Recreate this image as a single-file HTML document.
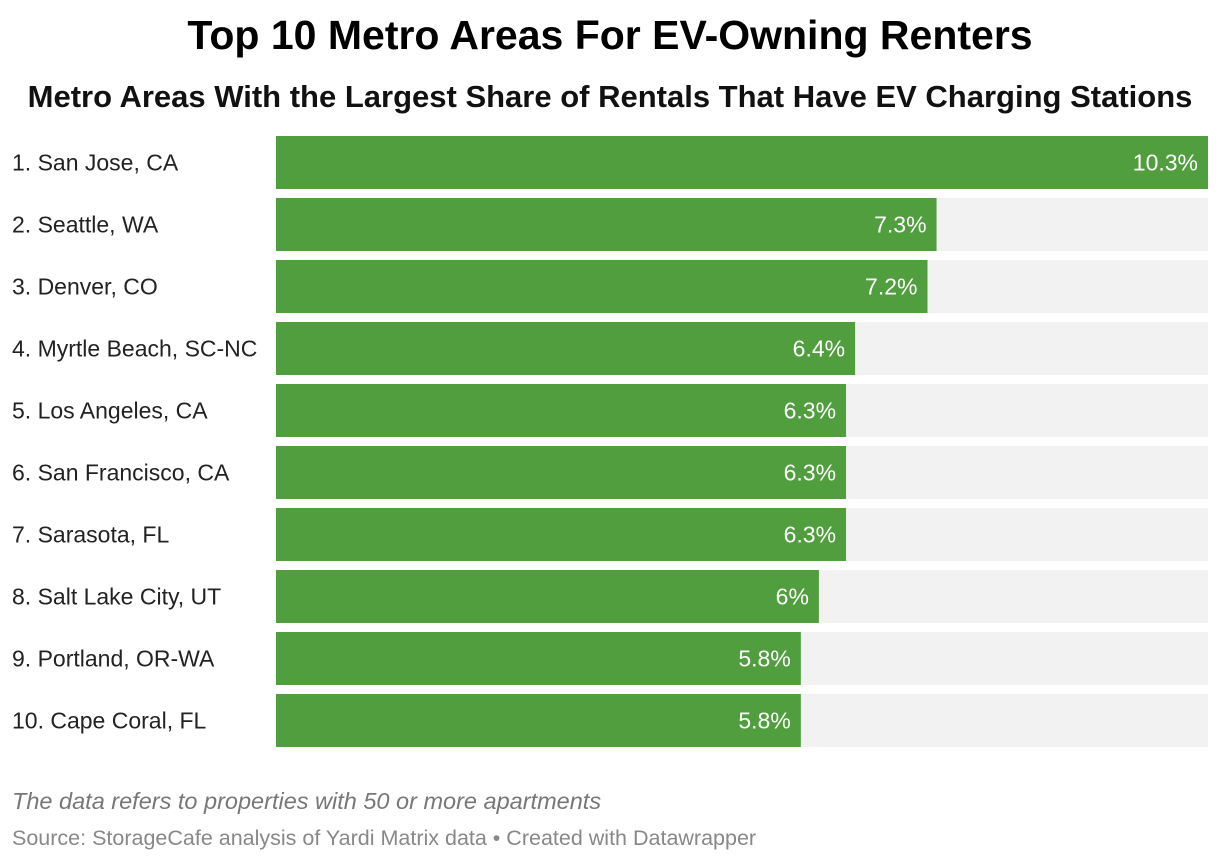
<!DOCTYPE html>
<html><head><meta charset="utf-8"><style>
body{margin:0;background:#fff;font-family:"Liberation Sans",sans-serif;}
#wrap{position:relative;width:1220px;height:862px;overflow:hidden}
.t{position:absolute;white-space:nowrap}
</style></head><body>
<div id="wrap">
<div class="t" style="left:0;width:1220px;text-align:center;top:12px;font-size:41px;font-weight:bold;color:#000">Top 10 Metro Areas For EV-Owning Renters</div>
<div class="t" style="left:0;width:1220px;text-align:center;top:79px;font-size:31px;font-weight:bold;color:#111">Metro Areas With the Largest Share of Rentals That Have EV Charging Stations</div>
<svg id="svg" width="1220" height="862" style="position:absolute;left:0;top:0"></svg>
<div class="t" style="left:12px;top:788px;font-size:23.5px;font-style:italic;color:#777">The data refers to properties with 50 or more apartments</div>
<div class="t" style="left:12px;top:826px;font-size:21.5px;color:#888">Source: StorageCafe analysis of Yardi Matrix data • Created with Datawrapper</div>
</div>
<script>
const categories=["1. San Jose, CA","2. Seattle, WA","3. Denver, CO","4. Myrtle Beach, SC-NC","5. Los Angeles, CA","6. San Francisco, CA","7. Sarasota, FL","8. Salt Lake City, UT","9. Portland, OR-WA","10. Cape Coral, FL"];
const values=[10.3,7.3,7.2,6.4,6.3,6.3,6.3,6,5.8,5.8];
const valueLabels=["10.3%","7.3%","7.2%","6.4%","6.3%","6.3%","6.3%","6%","5.8%","5.8%"];
const svg=document.getElementById('svg');const NS='http://www.w3.org/2000/svg';
const x0=276,x1=1208,maxV=10.3;
const x=v=>x0+(x1-x0)*v/maxV;
const y=i=>136+i*62;const bh=53;
function mk(t,a){const e=document.createElementNS(NS,t);for(const k in a)e.setAttribute(k,a[k]);svg.appendChild(e);return e;}
categories.forEach((c,i)=>{
 const bg=mk('rect',{x:x0,y:y(i),width:x1-x0,height:bh,fill:'#f2f2f2'});
 
 
 const b=mk('rect',{x:x0,y:y(i),width:x(values[i])-x0,height:bh,fill:'#509e3d'});
 
 
 const l=mk('text',{x:12,y:y(i)+bh/2+8,'font-size':23,fill:'#222'});l.textContent=c;
 
 
 const v=mk('text',{x:x(values[i])-10,y:y(i)+bh/2+8,'font-size':23,fill:'#fff','text-anchor':'end'});v.textContent=valueLabels[i];
 
 
});
</script>
</body></html>
